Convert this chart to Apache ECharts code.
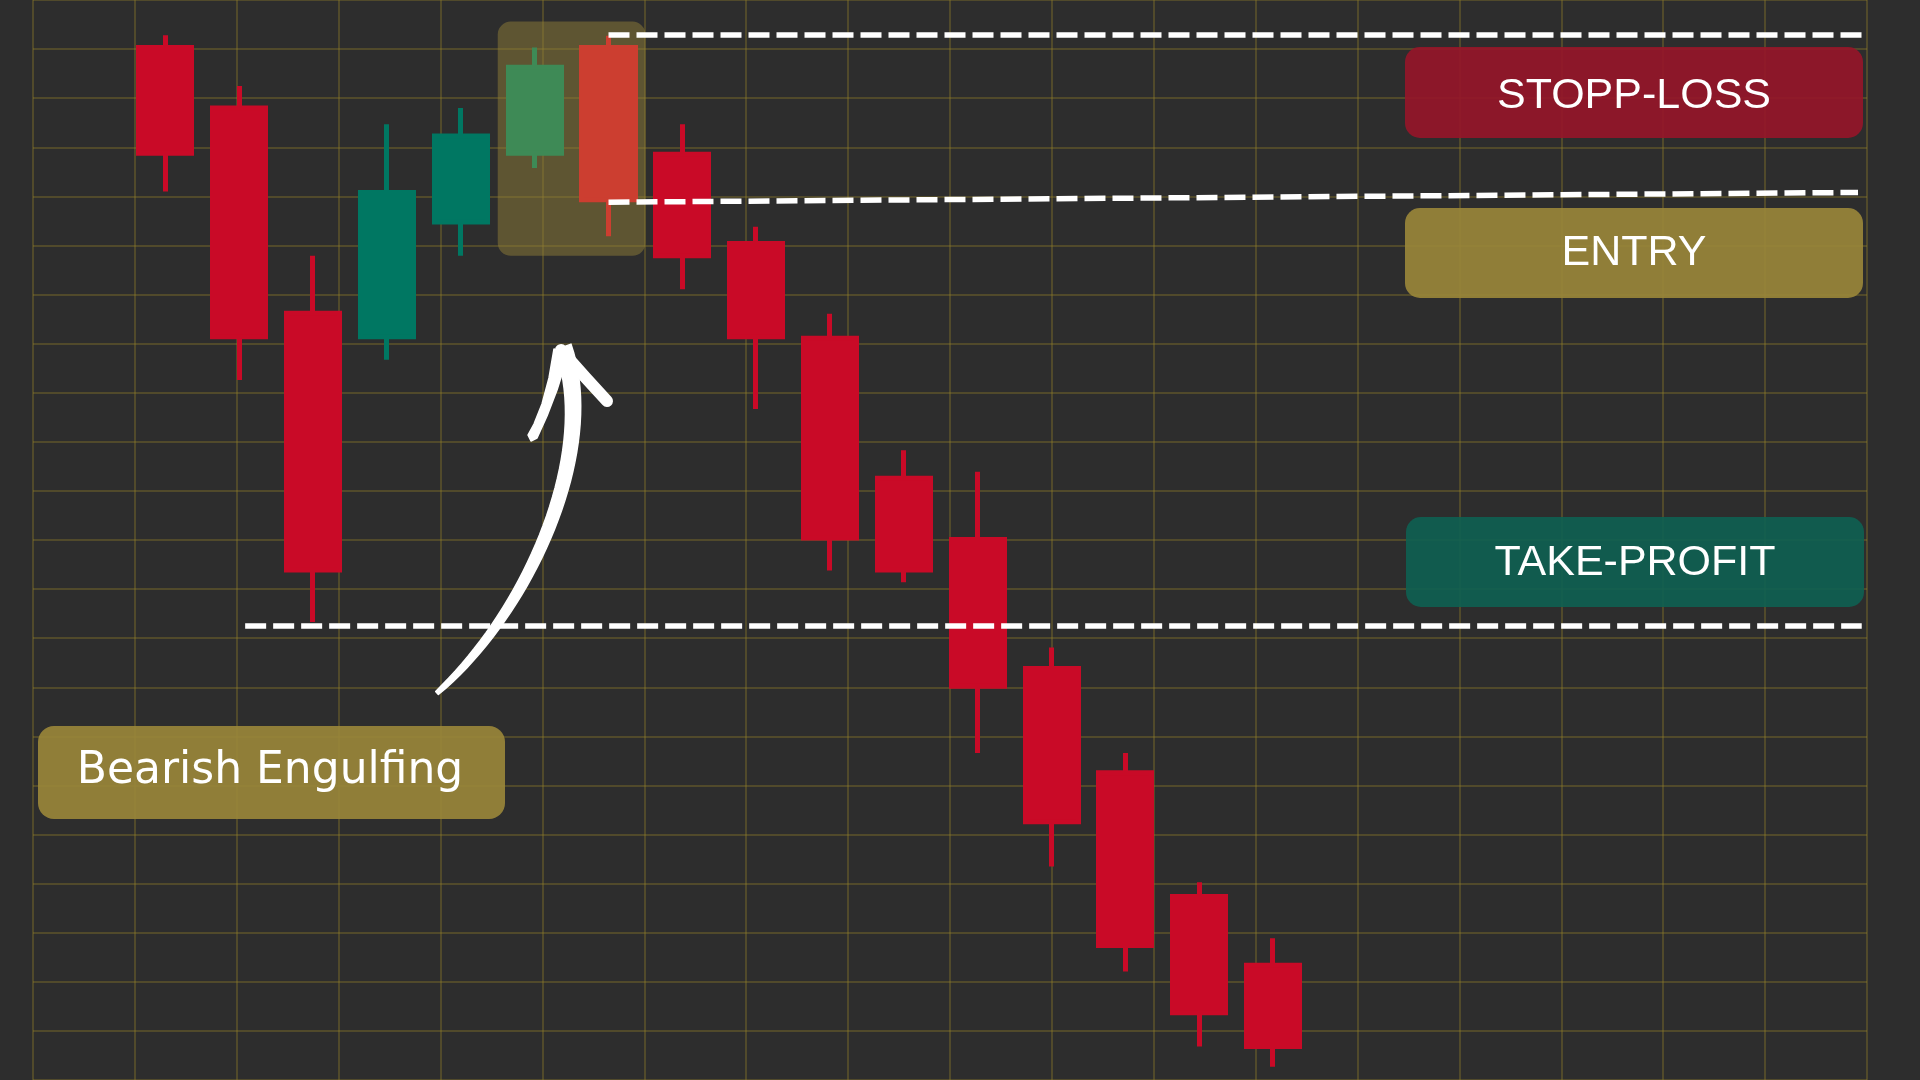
<!DOCTYPE html>
<html>
<head>
<meta charset="utf-8">
<script src="https://cdn.jsdelivr.net/npm/echarts@6/dist/echarts.min.js"></script>
<style>
html,body{margin:0;padding:0;background:#2d2d2d;overflow:hidden;}
#chart{width:1920px;height:1080px;}
</style>
</head>
<body>
<div id="chart"></div>
<script>
// ---- data ----
const periods = [0,1,2,3,4,5,6,7,8,9,10,11,12,13,14,15];
const opens  = [210.3,198.0,156.2,151.4,174.8,188.8,210.3,188.6,170.4,151.1,122.6,110.1,83.8,62.6,37.4,23.4];
const closes = [188.8,151.4,103.9,180.8,192.3,206.3,179.3,167.9,151.4,110.4,103.9,80.2,52.6,27.4,13.7,6.8];
const lows   = [181.0,142.6,93.3,146.7,167.9,185.8,171.9,161.1,136.7,103.8,101.4,66.6,43.5,22.1,6.8,2.7];
const highs  = [212.8,202.5,167.9,194.7,198.0,210.3,212.7,194.7,173.8,156.1,128.3,123.9,88.1,66.6,40.3,28.9];
const patternCandles = [5,6];
const stopLoss = 213.0;
const entryLevels = [178.8, 180.8];
const takeProfit = 92.5;
const levelStart = [6, 6, 1.08];
const levelEnd = [22.97, 22.92, 22.97];
const labelTexts = ['STOPP-LOSS','ENTRY','TAKE-PROFIT','Bearish Engulfing'];

// ---- colours ----
const UP = '#007762', DOWN = '#c90a27';
const PAT_UP = '#3e8a56', PAT_DOWN = '#cc3e30';

const chart = echarts.init(document.getElementById('chart'), null, {renderer:'canvas', width:1920, height:1080});

const candleData = periods.map((p, i) => {
  const item = { value: [p, opens[i], closes[i], lows[i], highs[i]] };
  if (patternCandles.indexOf(i) >= 0) {
    const c = closes[i] >= opens[i] ? PAT_UP : PAT_DOWN;
    item.itemStyle = { color: c, color0: c, borderColor: c, borderColor0: c };
  }
  return item;
});

const gridLine = { show: true, lineStyle: { color: 'rgba(150,130,40,0.35)', width: 2 } };

const option = {
  backgroundColor: '#2d2d2d',
  animation: false,
  grid: [
    { left: 0, right: 0, top: 0, bottom: 0 },
    { left: 33, right: 53, top: 0, bottom: 0 }
  ],
  xAxis: [
    { type: 'value', gridIndex: 0, min: -2.2397, max: 23.759, show: false },
    { type: 'value', gridIndex: 1, min: 0, max: 18, interval: 1,
      axisLine: { show: false }, axisTick: { show: false }, axisLabel: { show: false }, splitLine: gridLine }
  ],
  yAxis: [
    { type: 'value', gridIndex: 0, min: 0, max: 220, show: false },
    { type: 'value', gridIndex: 1, min: 0, max: 22, interval: 1,
      axisLine: { show: false }, axisTick: { show: false }, axisLabel: { show: false }, splitLine: gridLine }
  ],
  series: [{
    type: 'candlestick',
    xAxisIndex: 0, yAxisIndex: 0,
    barWidth: 53.6,
    encode: { x: 0, y: [1, 2, 3, 4] },
    data: candleData,
    itemStyle: { color: UP, color0: DOWN, borderColor: UP, borderColor0: DOWN, borderWidth: 5 },
    markLine: {
      silent: true,
      symbol: ['none', 'none'],
      label: { show: false },
      lineStyle: { color: '#ffffff', width: 5.5, type: [21, 7], opacity: 1 },
      emphasis: { disabled: true },
      data: [
        [{ coord: [levelStart[0], stopLoss] }, { coord: [levelEnd[0], stopLoss] }],
        [{ coord: [levelStart[1], entryLevels[0]] }, { coord: [levelEnd[1], entryLevels[1]] }],
        [{ coord: [levelStart[2], takeProfit] }, { coord: [levelEnd[2], takeProfit] }]
      ]
    }
  }]
};
chart.setOption(option);

// highlight box around the engulfing pattern (from chart coordinates)
const hp0 = chart.convertToPixel({ gridIndex: 0 }, [patternCandles[0] - 0.5, 215.6]);
const hp1 = chart.convertToPixel({ gridIndex: 0 }, [patternCandles[1] + 0.5, 167.9]);

function box(x, y, w, h, r, fill) {
  return { type: 'rect', z: 1, silent: true, shape: { x: x, y: y, width: w, height: h, r: r }, style: { fill: fill } };
}
function label(text, cx, cy, font) {
  return { type: 'text', z: 3, silent: true, x: cx, y: cy,
    style: { text: text, fill: '#ffffff', font: font, textAlign: 'center', textVerticalAlign: 'middle', align: 'center', verticalAlign: 'middle' } };
}

// tapered arrow shaft: sample a cubic bezier and offset by a growing half-width
function shaftPolygon() {
  const P = [[437, 693], [530, 610], [600, 450], [563, 347]];
  const n = 40, left = [], right = [];
  for (let k = 0; k <= n; k++) {
    const t = k / n, u = 1 - t;
    const x = u*u*u*P[0][0] + 3*u*u*t*P[1][0] + 3*u*t*t*P[2][0] + t*t*t*P[3][0];
    const y = u*u*u*P[0][1] + 3*u*u*t*P[1][1] + 3*u*t*t*P[2][1] + t*t*t*P[3][1];
    const dx = 3*u*u*(P[1][0]-P[0][0]) + 6*u*t*(P[2][0]-P[1][0]) + 3*t*t*(P[3][0]-P[2][0]);
    const dy = 3*u*u*(P[1][1]-P[0][1]) + 6*u*t*(P[2][1]-P[1][1]) + 3*t*t*(P[3][1]-P[2][1]);
    const len = Math.sqrt(dx*dx + dy*dy) || 1;
    const nx = -dy / len, ny = dx / len;
    const hw = 2 + 6.5 * Math.pow(t, 0.7);
    left.push([x + nx*hw, y + ny*hw]);
    right.push([x - nx*hw, y - ny*hw]);
  }
  return left.concat(right.reverse());
}

const rightFont = '43px "Liberation Sans", Arial, sans-serif';
chart.setOption({
  graphic: [
    box(hp0[0], hp0[1], hp1[0] - hp0[0], hp1[1] - hp0[1], 13, 'rgba(143,125,55,0.5)'),
    box(1405, 47, 458, 91, 15, 'rgba(149,22,41,0.92)'),
    label(labelTexts[0], 1634, 96, rightFont),
    box(1405, 208, 458, 90, 15, 'rgba(153,133,57,0.92)'),
    label(labelTexts[1], 1634, 253, rightFont),
    box(1406, 517, 458, 90, 15, 'rgba(15,95,81,0.92)'),
    label(labelTexts[2], 1635, 563, rightFont),
    box(38, 726, 467, 93, 16, 'rgba(153,133,57,0.92)'),
    label(labelTexts[3], 270, 772, '44px "DejaVu Sans", sans-serif'),
    // curved arrow (decoration)
    { type: 'polygon', z: 5, silent: true,
      shape: { points: shaftPolygon() },
      style: { fill: '#ffffff', stroke: '#ffffff', lineWidth: 1.5, lineJoin: 'round' } },
    { type: 'polygon', z: 5, silent: true,
      shape: { points: [[554,349],[549,378],[542,404],[534,424],[528,435],[531,441],[537,438],[547,416],[557,390],[568,355]] },
      style: { fill: '#ffffff', stroke: '#ffffff', lineWidth: 1.5, lineJoin: 'round' } },
    { type: 'polyline', z: 5, silent: true,
      shape: { points: [[561, 350], [585, 377], [607, 401]] },
      style: { stroke: '#ffffff', lineWidth: 12, lineCap: 'round', lineJoin: 'round', fill: null } }
  ]
});
</script>
</body>
</html>
